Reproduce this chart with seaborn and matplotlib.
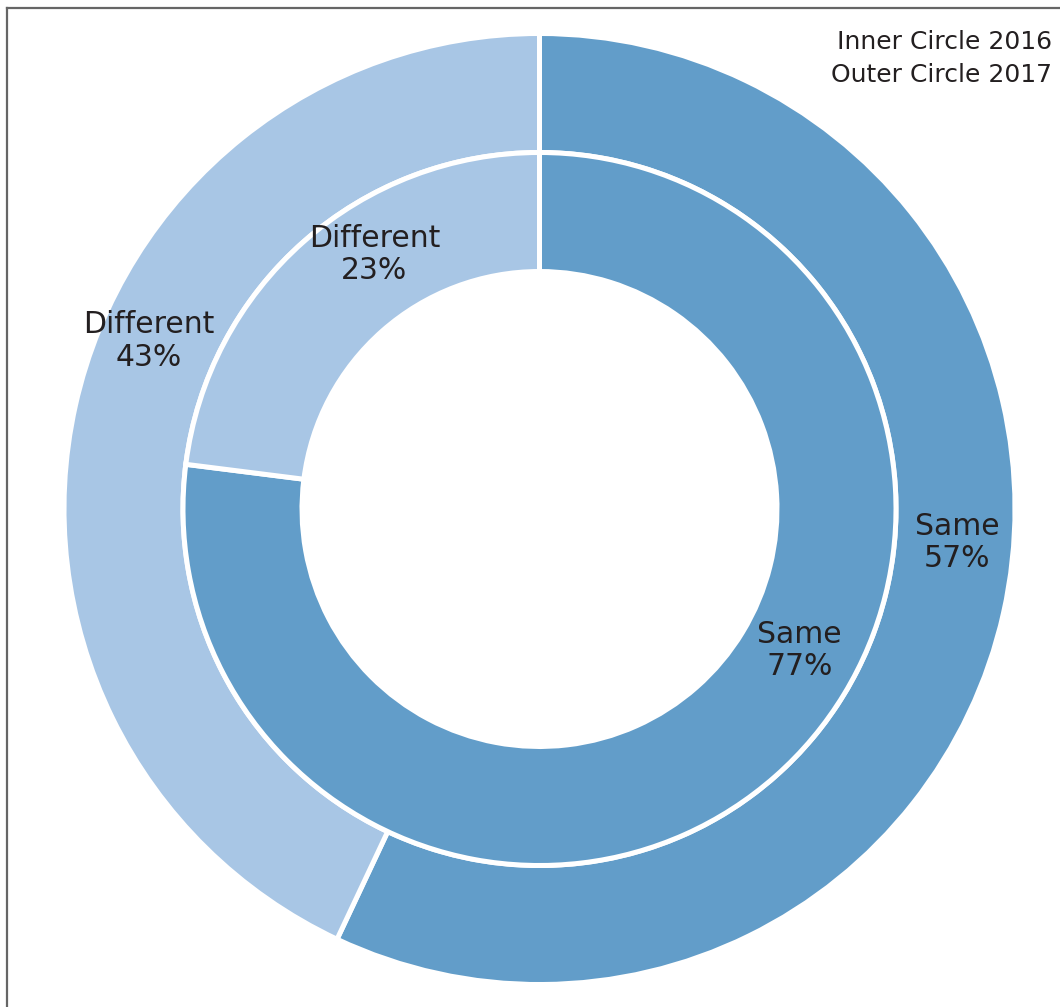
import matplotlib
matplotlib.use("Agg")
import matplotlib.pyplot as plt
import seaborn as sns
import numpy as np
from matplotlib.lines import Line2D

# Share of respondents answering "Same" vs "Different"
categories = ["Same", "Different"]
inner_2016 = [77, 23]
outer_2017 = [57, 43]
legend_lines = ["Inner Circle 2016", "Outer Circle 2017"]

sns.set_style("white")
plt.rcParams["font.family"] = ["DejaVu Sans"]

palette = ["#629DC9", "#A8C6E5"]
text_color = "#231F20"

W, H = 1060, 1007
fig = plt.figure(figsize=(W / 100, H / 100), dpi=100)
ax = fig.add_axes([0, 0, 1, 1])

cx, cy = 539.5, H - 509
r_outer, r_mid, r_hole = 475.5, 356.5, 237.5
edge = dict(edgecolor="white", linewidth=3.6)

ax.pie(outer_2017, colors=palette, startangle=90, counterclock=False,
       center=(cx, cy), radius=r_outer, frame=True,
       wedgeprops=dict(width=r_outer - r_mid, **edge))
ax.pie(inner_2016, colors=palette, startangle=90, counterclock=False,
       center=(cx, cy), radius=r_mid, frame=True,
       wedgeprops=dict(width=r_mid - r_hole, **edge))
ax.set_xlim(0, W)
ax.set_ylim(0, H)
ax.set_aspect("equal")
ax.axis("off")

# label anchors as (angle in degrees, distance from centre)
outer_pos = [(-4.6, 419), (156.7, 425)]
inner_pos = [(-28.5, 296), (123.0, 303)]

def put_labels(values, positions):
    for cat, val, (ang, dist) in zip(categories, values, positions):
        a = np.deg2rad(ang)
        ax.text(cx + dist * np.cos(a), cy + dist * np.sin(a),
                f"{cat}\n{val}%", ha="center", va="center",
                fontsize=21.5, color=text_color, linespacing=1.14)

put_labels(outer_2017, outer_pos)
put_labels(inner_2016, inner_pos)

ax.text(1052, H - 42, legend_lines[0], ha="right", va="center",
        fontsize=18, color=text_color)
ax.text(1052, H - 75, legend_lines[1], ha="right", va="center",
        fontsize=18, color=text_color)

# frame lines on the left and top
fig.add_artist(Line2D([7 / W, 7 / W], [0, 1 - 7.5 / H], transform=fig.transFigure,
                      color="#666666", linewidth=1.6, solid_capstyle="projecting"))
fig.add_artist(Line2D([7 / W, 1], [1 - 7.5 / H, 1 - 7.5 / H], transform=fig.transFigure,
                      color="#666666", linewidth=1.6, solid_capstyle="projecting"))

fig.savefig("out.png", dpi=100, facecolor="white")
